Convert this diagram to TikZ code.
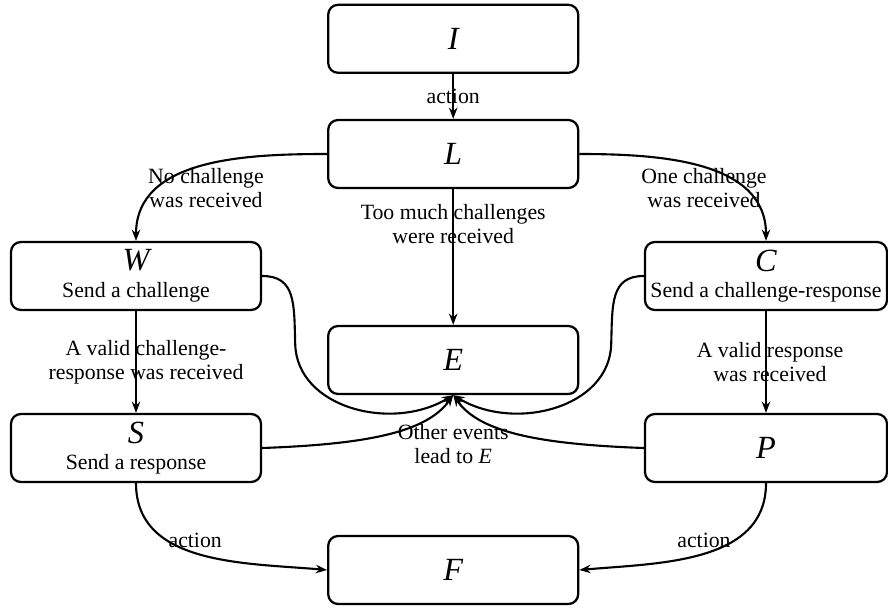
\documentclass[tikz,border=0pt]{standalone}
\usepackage{fontspec}
\setmainfont{Liberation Serif}
\usetikzlibrary{arrows.meta}
\newcommand{\statename}[1]{{\fontsize{23}{24}\selectfont\itshape #1}}

\begin{document}
\begin{tikzpicture}[
    box/.style={rectangle, draw, line width=1.6pt, rounded corners=7pt, minimum width=6.25cm, minimum height=1.7cm, align=center, inner xsep=0pt, font=\fontsize{15.5}{17}\selectfont},
    lbl/.style={align=center, font=\fontsize{15.5}{17}\selectfont},
    edge/.style={line width=1.5pt, -{Stealth[length=8pt,width=6pt]}}]

    \useasboundingbox (0,0) rectangle (22.2,15.2);

    % States
    \node[box] (I) at (11.33,14.23) {\statename{I}};
    \node[box] (L) at (11.33,11.35) {\statename{L}};
    \node[box] (W) at (3.40,8.30) {\statename{W}\\[2pt]Send a challenge};
    \node[box, minimum width=6.05cm] (C) at (19.15,8.30) {\statename{C}\\[2pt]Send a challenge-response};
    \node[box] (E) at (11.33,6.20) {\statename{E}};
    \node[box] (S) at (3.40,4.00) {\statename{S}\\[2pt]Send a response};
    \node[box, minimum width=6.05cm] (P) at (19.15,4.00) {\statename{P}};
    \node[box] (F) at (11.33,0.95) {\statename{F}};

    % Transitions
    \draw[edge] (I) -- (L);
    \draw[edge] (L.west) to[out=180,in=90] (W.north);
    \draw[edge] (L.east) to[out=0,in=90] (C.north);
    \draw[edge] (L) -- (E);
    \draw[edge] (W) -- (S);
    \draw[edge] (C) -- (P);
    \draw[edge] (W.east) .. controls (7.4,8.3) and (7.35,7.6) .. (7.38,6.6)
        .. controls (7.42,5.0) and (9.8,4.4) .. (E.south);
    \draw[edge] (C.west) .. controls (15.26,8.3) and (15.31,7.6) .. (15.28,6.6)
        .. controls (15.24,5.0) and (12.86,4.4) .. (E.south);
    \draw[edge] (S.east) .. controls (9.4,4.1) and (10.7,4.45) .. (E.south);
    \draw[edge] (P.west) .. controls (13.25,4.1) and (11.95,4.45) .. (E.south);
    \draw[edge] (S.south) to[out=-90,in=175] (F.west);
    \draw[edge] (P.south) to[out=-90,in=5] (F.east);

    % Labels
    \node[lbl] (actI) at (11.33,12.78) {action};
    \node[lbl] (nochal) at (5.15,10.50) {No challenge\\was received};
    \node[lbl] (onechal) at (17.60,10.50) {One challenge\\was received};
    \node[lbl] (toomuch) at (11.33,9.60) {Too much challenges\\were received};
    \node[lbl] (validcr) at (3.65,6.15) {A valid challenge-\\response was received};
    \node[lbl] (validr) at (19.25,6.15) {A valid response\\was received};
    \node[lbl] (other) at (11.33,4.10) {Other events\\lead to \textit{E}};
    \node[lbl] (actS) at (4.88,1.70) {action};
    \node[lbl] (actP) at (17.60,1.70) {action};
\end{tikzpicture}
\end{document}
